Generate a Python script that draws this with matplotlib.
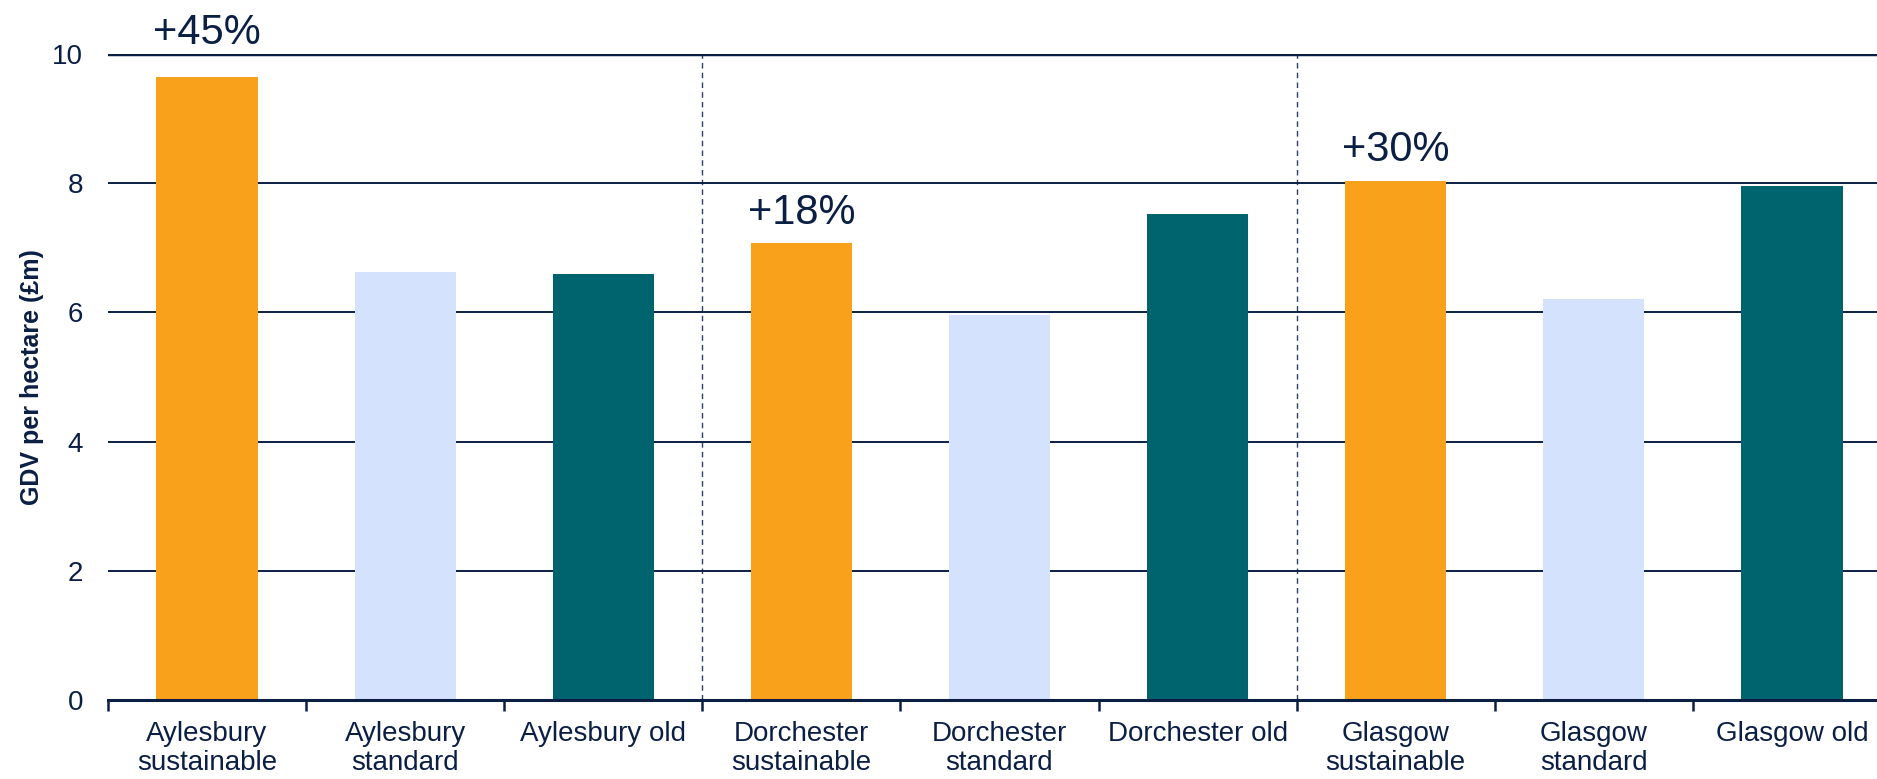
import numpy as np
import matplotlib
matplotlib.use('Agg')
import matplotlib.pyplot as plt

plt.rcParams['font.family'] = ['Liberation Sans', 'DejaVu Sans']

navy = '#0b1f45'
orange = '#f9a11b'
lightblue = '#d4e2fd'
teal = '#00646e'

categories = ['Aylesbury\nsustainable', 'Aylesbury\nstandard', 'Aylesbury old',
              'Dorchester\nsustainable', 'Dorchester\nstandard', 'Dorchester old',
              'Glasgow\nsustainable', 'Glasgow\nstandard', 'Glasgow old']
values = [9.65, 6.63, 6.60, 7.07, 5.96, 7.52, 8.04, 6.20, 7.96]
bar_colors = [orange, lightblue, teal] * 3
uplift_idx = [0, 3, 6]
uplift_labels = ['+45%', '+18%', '+30%']
uplift_gap = [0.5, 0.3, 0.31]
yticks = [0, 2, 4, 6, 8, 10]

fig = plt.figure(figsize=(18.77, 7.79), dpi=100)
ax = fig.add_axes([0.0575, 0.1014, 0.950, 0.8293])

x = np.arange(len(categories))
ax.bar(x, values, width=0.51, color=bar_colors, zorder=3)

# gridlines
for v in yticks[1:]:
    ax.axhline(v, color=navy, lw=1.4 if v < 10 else 2.5, zorder=1)

# group separators
for b in [2.5, 5.5]:
    ax.axvline(b, color=navy, lw=1.0, ls=(0, (4, 3)), alpha=0.85, zorder=1)

for i, lab, g in zip(uplift_idx, uplift_labels, uplift_gap):
    ax.text(x[i], values[i] + g, lab, ha='center', va='baseline',
            fontsize=30, color=navy, clip_on=False)

ax.set_xlim(-0.5, len(categories) - 0.5)
ax.set_ylim(0, 10)

ax.set_xticks(np.arange(-0.5, len(categories) + 0.5, 1.0))
ax.set_xticklabels([])
ax.set_xticks(x, minor=True)
ax.set_xticklabels(categories, minor=True, fontsize=20, color=navy, linespacing=1.15)
ax.tick_params(axis='x', which='major', length=8, width=1.8, color=navy, direction='out')
ax.tick_params(axis='x', which='minor', length=0, pad=15)

ax.set_yticks(yticks)
ax.set_yticklabels([str(v) for v in yticks], fontsize=20, color=navy)
ax.tick_params(axis='y', length=0, pad=18)

ax.set_ylabel('GDV per hectare (£m)', fontsize=18, fontweight='bold', color=navy, labelpad=6)

for s in ['top', 'right', 'left']:
    ax.spines[s].set_visible(False)
ax.spines['bottom'].set_color(navy)
ax.spines['bottom'].set_linewidth(2.2)
ax.spines['bottom'].set_zorder(4)

fig.savefig('out.png', dpi=100, facecolor='white')
